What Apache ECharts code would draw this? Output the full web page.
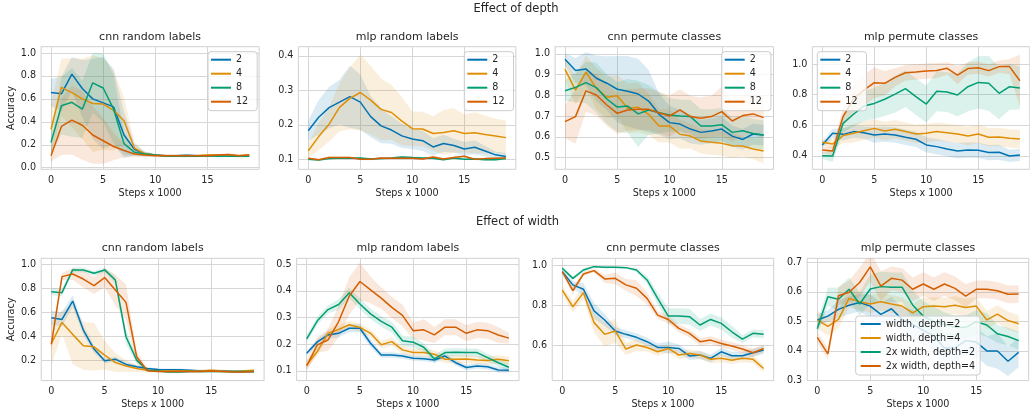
<!DOCTYPE html>
<html>
<head>
<meta charset="utf-8">
<script src="https://cdn.jsdelivr.net/npm/echarts@6/dist/echarts.min.js"></script>
<style>
  html, body { margin: 0; padding: 0; background: #ffffff; }
  #chart { width: 1030px; height: 412px; }
</style>
</head>
<body>
<div id="chart"></div>
<script>
// Training steps (in thousands)
const steps = [0, 1, 2, 3, 4, 5, 6, 7, 8, 9, 10, 11, 12, 13, 14, 15, 16, 17, 18, 19];

const depthNames = ['2', '4', '8', '12'];
const widthNames = ['width, depth=2', 'width, depth=4', '2x width, depth=2', '2x width, depth=4'];

// ---- Effect of depth: cnn, random labels (mean accuracy and spread)
const dCnnRand2 = [0.656, 0.644, 0.816, 0.69, 0.60, 0.565, 0.53, 0.285, 0.16, 0.12, 0.11, 0.105, 0.105, 0.108, 0.105, 0.105, 0.105, 0.104, 0.10, 0.104];
const dCnnRand2Sd = [0.12, 0.15, 0.15, 0.25, 0.35, 0.4, 0.33, 0.2, 0.05, 0.02, 0.01, 0.01, 0.01, 0.01, 0.01, 0.01, 0.01, 0.01, 0.01, 0.01];
const dCnnRand4 = [0.335, 0.70, 0.655, 0.60, 0.56, 0.555, 0.50, 0.41, 0.17, 0.12, 0.11, 0.105, 0.105, 0.105, 0.105, 0.11, 0.11, 0.11, 0.105, 0.11];
const dCnnRand4Sd = [0.22, 0.25, 0.3, 0.35, 0.42, 0.4, 0.35, 0.2, 0.05, 0.02, 0.01, 0.01, 0.01, 0.01, 0.01, 0.01, 0.01, 0.01, 0.01, 0.01];
const dCnnRand8 = [0.22, 0.54, 0.57, 0.51, 0.74, 0.695, 0.51, 0.21, 0.135, 0.12, 0.11, 0.10, 0.10, 0.10, 0.10, 0.105, 0.10, 0.10, 0.10, 0.10];
const dCnnRand8Sd = [0.1, 0.25, 0.3, 0.25, 0.26, 0.3, 0.3, 0.1, 0.03, 0.02, 0.01, 0.01, 0.01, 0.01, 0.01, 0.01, 0.01, 0.01, 0.01, 0.01];
const dCnnRand12 = [0.105, 0.36, 0.415, 0.37, 0.285, 0.235, 0.185, 0.15, 0.12, 0.11, 0.105, 0.105, 0.105, 0.105, 0.105, 0.105, 0.11, 0.115, 0.105, 0.11];
const dCnnRand12Sd = [0.05, 0.25, 0.3, 0.3, 0.25, 0.2, 0.12, 0.06, 0.03, 0.02, 0.01, 0.01, 0.01, 0.01, 0.01, 0.01, 0.01, 0.01, 0.01, 0.01];

// ---- Effect of depth: mlp, random labels
const dMlpRand2 = [0.183, 0.222, 0.25, 0.266, 0.282, 0.266, 0.224, 0.197, 0.185, 0.168, 0.159, 0.154, 0.136, 0.146, 0.14, 0.13, 0.135, 0.124, 0.113, 0.108];
const dMlpRand2Sd = [0.03, 0.05, 0.06, 0.065, 0.09, 0.08, 0.06, 0.05, 0.04, 0.035, 0.03, 0.03, 0.025, 0.025, 0.02, 0.02, 0.02, 0.015, 0.01, 0.01];
const dMlpRand4 = [0.125, 0.166, 0.202, 0.251, 0.277, 0.294, 0.272, 0.245, 0.236, 0.211, 0.189, 0.188, 0.175, 0.178, 0.183, 0.175, 0.177, 0.172, 0.168, 0.163];
const dMlpRand4Sd = [0.02, 0.04, 0.05, 0.07, 0.09, 0.11, 0.1, 0.09, 0.08, 0.07, 0.05, 0.05, 0.05, 0.065, 0.065, 0.055, 0.06, 0.055, 0.05, 0.05];
const dMlpRand8 = [0.1, 0.098, 0.102, 0.104, 0.103, 0.104, 0.101, 0.102, 0.104, 0.107, 0.105, 0.104, 0.103, 0.099, 0.104, 0.1, 0.101, 0.099, 0.099, 0.102];
const dMlpRand8Sd = [0.003, 0.003, 0.003, 0.003, 0.003, 0.003, 0.003, 0.003, 0.003, 0.003, 0.003, 0.003, 0.003, 0.003, 0.003, 0.003, 0.003, 0.003, 0.003, 0.003];
const dMlpRand12 = [0.103, 0.099, 0.105, 0.105, 0.105, 0.1, 0.1, 0.104, 0.103, 0.103, 0.103, 0.101, 0.107, 0.101, 0.105, 0.109, 0.1, 0.102, 0.103, 0.104];
const dMlpRand12Sd = [0.003, 0.003, 0.003, 0.003, 0.003, 0.003, 0.003, 0.003, 0.003, 0.003, 0.003, 0.003, 0.003, 0.003, 0.003, 0.003, 0.003, 0.003, 0.003, 0.003];

// ---- Effect of depth: cnn, permuted classes
const dCnnPerm2 = [0.974, 0.92, 0.928, 0.883, 0.859, 0.83, 0.82, 0.807, 0.773, 0.709, 0.669, 0.662, 0.638, 0.622, 0.629, 0.638, 0.604, 0.588, 0.614, 0.609];
const dCnnPerm2Sd = [0.03, 0.06, 0.08, 0.11, 0.13, 0.16, 0.17, 0.17, 0.15, 0.1, 0.08, 0.07, 0.07, 0.06, 0.06, 0.06, 0.05, 0.05, 0.05, 0.05];
const dCnnPerm4 = [0.926, 0.826, 0.912, 0.834, 0.791, 0.799, 0.738, 0.743, 0.709, 0.653, 0.653, 0.613, 0.604, 0.58, 0.574, 0.569, 0.558, 0.556, 0.542, 0.532];
const dCnnPerm4Sd = [0.05, 0.07, 0.08, 0.1, 0.1, 0.1, 0.12, 0.12, 0.1, 0.08, 0.08, 0.07, 0.06, 0.06, 0.06, 0.06, 0.06, 0.05, 0.05, 0.06];
const dCnnPerm8 = [0.823, 0.839, 0.862, 0.838, 0.783, 0.744, 0.749, 0.711, 0.73, 0.717, 0.706, 0.701, 0.698, 0.653, 0.653, 0.659, 0.622, 0.63, 0.617, 0.609];
const dCnnPerm8Sd = [0.05, 0.07, 0.1, 0.12, 0.12, 0.12, 0.13, 0.16, 0.12, 0.1, 0.08, 0.08, 0.08, 0.08, 0.08, 0.08, 0.07, 0.07, 0.07, 0.07];
const dCnnPerm12 = [0.674, 0.698, 0.822, 0.802, 0.754, 0.714, 0.73, 0.733, 0.733, 0.717, 0.701, 0.73, 0.698, 0.69, 0.698, 0.722, 0.677, 0.703, 0.711, 0.693];
const dCnnPerm12Sd = [0.08, 0.13, 0.1, 0.1, 0.1, 0.1, 0.1, 0.1, 0.1, 0.1, 0.1, 0.1, 0.1, 0.1, 0.1, 0.12, 0.1, 0.1, 0.1, 0.1];

// ---- Effect of depth: mlp, permuted classes
const dMlpPerm2 = [0.472, 0.548, 0.541, 0.559, 0.552, 0.537, 0.543, 0.537, 0.522, 0.509, 0.472, 0.461, 0.446, 0.433, 0.439, 0.437, 0.422, 0.424, 0.4, 0.407];
const dMlpPerm2Sd = [0.02, 0.03, 0.04, 0.04, 0.04, 0.05, 0.05, 0.05, 0.05, 0.05, 0.05, 0.05, 0.05, 0.05, 0.05, 0.05, 0.05, 0.05, 0.04, 0.04];
const dMlpPerm4 = [0.489, 0.478, 0.533, 0.548, 0.565, 0.58, 0.563, 0.574, 0.559, 0.543, 0.548, 0.559, 0.552, 0.543, 0.53, 0.543, 0.522, 0.524, 0.515, 0.511];
const dMlpPerm4Sd = [0.02, 0.03, 0.05, 0.06, 0.06, 0.06, 0.06, 0.06, 0.06, 0.06, 0.06, 0.06, 0.06, 0.06, 0.06, 0.06, 0.06, 0.06, 0.06, 0.06];
const dMlpPerm8 = [0.402, 0.4, 0.613, 0.672, 0.726, 0.743, 0.77, 0.804, 0.839, 0.787, 0.739, 0.822, 0.817, 0.798, 0.852, 0.88, 0.874, 0.809, 0.852, 0.843];
const dMlpPerm8Sd = [0.02, 0.04, 0.06, 0.08, 0.1, 0.1, 0.11, 0.12, 0.12, 0.12, 0.12, 0.13, 0.13, 0.14, 0.16, 0.17, 0.18, 0.17, 0.15, 0.14];
const dMlpPerm12 = [0.439, 0.433, 0.657, 0.772, 0.83, 0.878, 0.874, 0.913, 0.943, 0.948, 0.954, 0.957, 0.972, 0.928, 0.97, 0.976, 0.957, 0.983, 0.983, 0.891];
const dMlpPerm12Sd = [0.02, 0.03, 0.06, 0.09, 0.1, 0.1, 0.08, 0.06, 0.05, 0.05, 0.05, 0.05, 0.04, 0.06, 0.04, 0.04, 0.04, 0.04, 0.05, 0.17];

// ---- Effect of width: cnn, random labels
const wCnnRandW2 = [0.554, 0.54, 0.693, 0.451, 0.292, 0.194, 0.208, 0.164, 0.144, 0.13, 0.122, 0.12, 0.12, 0.115, 0.11, 0.11, 0.11, 0.105, 0.105, 0.105];
const wCnnRandW2Sd = [0.06, 0.06, 0.05, 0.04, 0.03, 0.02, 0.02, 0.02, 0.015, 0.01, 0.01, 0.01, 0.01, 0.01, 0.01, 0.01, 0.01, 0.01, 0.01, 0.01];
const wCnnRandW4 = [0.339, 0.515, 0.415, 0.32, 0.311, 0.242, 0.18, 0.15, 0.13, 0.116, 0.11, 0.11, 0.11, 0.11, 0.11, 0.115, 0.11, 0.105, 0.11, 0.115];
const wCnnRandW4Sd = [0.18, 0.1, 0.25, 0.2, 0.2, 0.12, 0.08, 0.05, 0.03, 0.02, 0.01, 0.01, 0.01, 0.01, 0.01, 0.01, 0.01, 0.01, 0.01, 0.01];
const wCnnRand2xW2 = [0.771, 0.763, 0.953, 0.953, 0.925, 0.953, 0.869, 0.395, 0.2, 0.116, 0.11, 0.1, 0.1, 0.105, 0.105, 0.105, 0.105, 0.105, 0.105, 0.105];
const wCnnRand2xW2Sd = [0.03, 0.03, 0.02, 0.02, 0.02, 0.02, 0.03, 0.06, 0.03, 0.01, 0.01, 0.01, 0.01, 0.01, 0.01, 0.01, 0.01, 0.01, 0.01, 0.01];
const wCnnRand2xW4 = [0.331, 0.897, 0.919, 0.877, 0.822, 0.889, 0.785, 0.682, 0.228, 0.111, 0.105, 0.105, 0.105, 0.105, 0.105, 0.11, 0.105, 0.1, 0.1, 0.105];
const wCnnRand2xW4Sd = [0.05, 0.03, 0.05, 0.07, 0.07, 0.08, 0.13, 0.15, 0.05, 0.01, 0.01, 0.01, 0.01, 0.01, 0.01, 0.01, 0.01, 0.01, 0.01, 0.01];

// ---- Effect of width: mlp, random labels
const wMlpRandW2 = [0.166, 0.209, 0.235, 0.241, 0.26, 0.26, 0.204, 0.16, 0.16, 0.156, 0.148, 0.146, 0.141, 0.156, 0.131, 0.113, 0.119, 0.116, 0.104, 0.103];
const wMlpRandW2Sd = [0.01, 0.01, 0.015, 0.015, 0.015, 0.015, 0.015, 0.01, 0.01, 0.01, 0.01, 0.01, 0.01, 0.01, 0.01, 0.01, 0.01, 0.01, 0.01, 0.01];
const wMlpRandW4 = [0.123, 0.173, 0.241, 0.256, 0.273, 0.263, 0.241, 0.198, 0.21, 0.179, 0.169, 0.169, 0.163, 0.144, 0.144, 0.145, 0.141, 0.139, 0.144, 0.138];
const wMlpRandW4Sd = [0.015, 0.015, 0.015, 0.015, 0.015, 0.015, 0.015, 0.015, 0.015, 0.015, 0.015, 0.015, 0.015, 0.015, 0.015, 0.015, 0.015, 0.015, 0.015, 0.015];
const wMlpRand2xW2 = [0.22, 0.288, 0.33, 0.349, 0.393, 0.351, 0.314, 0.286, 0.264, 0.213, 0.208, 0.189, 0.145, 0.169, 0.17, 0.169, 0.169, 0.15, 0.131, 0.114];
const wMlpRand2xW2Sd = [0.015, 0.015, 0.015, 0.02, 0.02, 0.02, 0.02, 0.02, 0.02, 0.02, 0.02, 0.015, 0.015, 0.015, 0.015, 0.015, 0.015, 0.015, 0.015, 0.015];
const wMlpRand2xW4 = [0.119, 0.198, 0.216, 0.285, 0.381, 0.435, 0.404, 0.373, 0.338, 0.308, 0.251, 0.254, 0.235, 0.264, 0.264, 0.241, 0.254, 0.251, 0.235, 0.223];
const wMlpRand2xW4Sd = [0.02, 0.03, 0.04, 0.06, 0.07, 0.07, 0.05, 0.04, 0.04, 0.04, 0.03, 0.04, 0.03, 0.03, 0.03, 0.03, 0.03, 0.03, 0.03, 0.02];

// ---- Effect of width: cnn, permuted classes
const wCnnPermW2 = [0.97, 0.903, 0.881, 0.772, 0.726, 0.671, 0.654, 0.639, 0.617, 0.588, 0.588, 0.583, 0.545, 0.55, 0.533, 0.566, 0.546, 0.546, 0.561, 0.575];
const wCnnPermW2Sd = [0.01, 0.02, 0.03, 0.04, 0.03, 0.02, 0.02, 0.02, 0.02, 0.02, 0.03, 0.02, 0.02, 0.02, 0.02, 0.02, 0.02, 0.02, 0.02, 0.02];
const wCnnPermW4 = [0.877, 0.793, 0.864, 0.713, 0.654, 0.671, 0.58, 0.6, 0.588, 0.566, 0.583, 0.55, 0.558, 0.55, 0.528, 0.533, 0.524, 0.533, 0.528, 0.482];
const wCnnPermW4Sd = [0.02, 0.03, 0.03, 0.05, 0.06, 0.06, 0.03, 0.03, 0.02, 0.02, 0.02, 0.02, 0.02, 0.02, 0.02, 0.02, 0.02, 0.02, 0.02, 0.02];
const wCnnPerm2xW2 = [0.987, 0.936, 0.978, 0.995, 0.992, 0.992, 0.99, 0.978, 0.928, 0.835, 0.746, 0.746, 0.743, 0.701, 0.729, 0.709, 0.667, 0.63, 0.659, 0.654];
const wCnnPerm2xW2Sd = [0.01, 0.01, 0.01, 0.005, 0.005, 0.005, 0.005, 0.01, 0.02, 0.03, 0.04, 0.04, 0.04, 0.03, 0.03, 0.03, 0.03, 0.02, 0.02, 0.02];
const wCnnPerm2xW4 = [0.97, 0.874, 0.958, 0.975, 0.933, 0.936, 0.903, 0.886, 0.835, 0.751, 0.729, 0.684, 0.659, 0.617, 0.625, 0.608, 0.595, 0.58, 0.561, 0.583];
const wCnnPerm2xW4Sd = [0.01, 0.02, 0.01, 0.01, 0.02, 0.03, 0.03, 0.04, 0.03, 0.02, 0.02, 0.02, 0.02, 0.02, 0.02, 0.02, 0.02, 0.02, 0.02, 0.02];

// ---- Effect of width: mlp, permuted classes
const wMlpPermW2 = [0.505, 0.518, 0.541, 0.555, 0.564, 0.552, 0.524, 0.543, 0.507, 0.49, 0.47, 0.45, 0.41, 0.41, 0.435, 0.43, 0.40, 0.40, 0.365, 0.395];
const wMlpPermW2Sd = [0.02, 0.02, 0.03, 0.03, 0.03, 0.04, 0.04, 0.04, 0.04, 0.05, 0.05, 0.05, 0.05, 0.05, 0.05, 0.05, 0.05, 0.06, 0.05, 0.05];
const wMlpPermW4 = [0.505, 0.483, 0.507, 0.578, 0.567, 0.559, 0.567, 0.559, 0.552, 0.529, 0.55, 0.552, 0.55, 0.555, 0.547, 0.552, 0.505, 0.525, 0.503, 0.492];
const wMlpPermW4Sd = [0.03, 0.03, 0.03, 0.03, 0.03, 0.03, 0.03, 0.03, 0.03, 0.03, 0.03, 0.03, 0.03, 0.03, 0.03, 0.03, 0.03, 0.03, 0.03, 0.03];
const wMlpPerm2xW2 = [0.475, 0.584, 0.575, 0.609, 0.559, 0.61, 0.618, 0.616, 0.616, 0.556, 0.518, 0.5, 0.49, 0.48, 0.48, 0.499, 0.488, 0.458, 0.449, 0.435];
const wMlpPerm2xW2Sd = [0.02, 0.03, 0.04, 0.04, 0.04, 0.05, 0.05, 0.05, 0.05, 0.05, 0.05, 0.05, 0.04, 0.04, 0.04, 0.04, 0.04, 0.03, 0.03, 0.03];
const wMlpPerm2xW4 = [0.446, 0.39, 0.587, 0.599, 0.632, 0.685, 0.62, 0.646, 0.64, 0.609, 0.627, 0.609, 0.627, 0.612, 0.586, 0.609, 0.609, 0.604, 0.592, 0.593];
const wMlpPerm2xW4Sd = [0.02, 0.02, 0.03, 0.04, 0.05, 0.05, 0.05, 0.04, 0.04, 0.04, 0.04, 0.04, 0.04, 0.04, 0.04, 0.03, 0.03, 0.03, 0.03, 0.03];

// Tick labels
const xTicks = [0, 5, 10, 15];
const yTicksCnnRand = [0, 0.2, 0.4, 0.6, 0.8, 1.0];
const yTicksMlpRandDepth = [0.1, 0.2, 0.3, 0.4];
const yTicksCnnPermDepth = [0.5, 0.6, 0.7, 0.8, 0.9, 1.0];
const yTicksMlpPermDepth = [0.4, 0.6, 0.8, 1.0];
const yTicksCnnRandWidth = [0.2, 0.4, 0.6, 0.8, 1.0];
const yTicksMlpRandWidth = [0.1, 0.2, 0.3, 0.4, 0.5];
const yTicksCnnPermWidth = [0.6, 0.8, 1.0];
const yTicksMlpPermWidth = [0.3, 0.4, 0.5, 0.6, 0.7];

const palette = ['#0173b2', '#de8f05', '#029e73', '#d55e00'];
const FONT = 'DejaVu Sans';
const TEXT = '#262626';

// Panel layout (pixels) and the series drawn in each
const panels = [
  { title: 'cnn random labels', left: 41.1, top: 46.7, width: 218, height: 122.6, yMin: -0.014, yMax: 1.055, yTicks: yTicksCnnRand, yName: 'Accuracy',
    names: depthNames, means: [dCnnRand2, dCnnRand4, dCnnRand8, dCnnRand12], sds: [dCnnRand2Sd, dCnnRand4Sd, dCnnRand8Sd, dCnnRand12Sd],
    legend: { left: 208, top: 51.7, padding: [2, 9, 3, 3] } },
  { title: 'mlp random labels', left: 298.4, top: 46.7, width: 217.4, height: 122.6, yMin: 0.071, yMax: 0.427, yTicks: yTicksMlpRandDepth,
    names: depthNames, means: [dMlpRand2, dMlpRand4, dMlpRand8, dMlpRand12], sds: [dMlpRand2Sd, dMlpRand4Sd, dMlpRand8Sd, dMlpRand12Sd],
    legend: { left: 464.3, top: 51.7, padding: [2, 9, 3, 3] } },
  { title: 'cnn permute classes', left: 555.1, top: 46.7, width: 218.4, height: 122.6, yMin: 0.444, yMax: 1.035, yTicks: yTicksCnnPermDepth,
    names: depthNames, means: [dCnnPerm2, dCnnPerm4, dCnnPerm8, dCnnPerm12], sds: [dCnnPerm2Sd, dCnnPerm4Sd, dCnnPerm8Sd, dCnnPerm12Sd],
    legend: { left: 721.7, top: 51.7, padding: [2, 9, 3, 3] } },
  { title: 'mlp permute classes', left: 812.4, top: 46.7, width: 217.4, height: 122.6, yMin: 0.313, yMax: 1.113, yTicks: yTicksMlpPermDepth,
    names: depthNames, means: [dMlpPerm2, dMlpPerm4, dMlpPerm8, dMlpPerm12], sds: [dMlpPerm2Sd, dMlpPerm4Sd, dMlpPerm8Sd, dMlpPerm12Sd],
    legend: { left: 817.3, top: 51.7, padding: [2, 9, 3, 3] } },
  { title: 'cnn random labels', left: 41.2, top: 258.3, width: 222.9, height: 122.3, yMin: 0.029, yMax: 1.05, yTicks: yTicksCnnRandWidth, yName: 'Accuracy',
    names: widthNames, means: [wCnnRandW2, wCnnRandW4, wCnnRand2xW2, wCnnRand2xW4], sds: [wCnnRandW2Sd, wCnnRandW4Sd, wCnnRand2xW2Sd, wCnnRand2xW4Sd] },
  { title: 'mlp random labels', left: 296.6, top: 258.3, width: 222.4, height: 122.3, yMin: 0.064, yMax: 0.522, yTicks: yTicksMlpRandWidth,
    names: widthNames, means: [wMlpRandW2, wMlpRandW4, wMlpRand2xW2, wMlpRand2xW4], sds: [wMlpRandW2Sd, wMlpRandW4Sd, wMlpRand2xW2Sd, wMlpRand2xW4Sd] },
  { title: 'cnn permute classes', left: 552.2, top: 258.3, width: 221.5, height: 122.3, yMin: 0.421, yMax: 1.037, yTicks: yTicksCnnPermWidth,
    names: widthNames, means: [wCnnPermW2, wCnnPermW4, wCnnPerm2xW2, wCnnPerm2xW4], sds: [wCnnPermW2Sd, wCnnPermW4Sd, wCnnPerm2xW2Sd, wCnnPerm2xW4Sd] },
  { title: 'mlp permute classes', left: 807.2, top: 258.3, width: 221.5, height: 122.3, yMin: 0.2995, yMax: 0.714, yTicks: yTicksMlpPermWidth,
    names: widthNames, means: [wMlpPermW2, wMlpPermW4, wMlpPerm2xW2, wMlpPerm2xW4], sds: [wMlpPermW2Sd, wMlpPermW4Sd, wMlpPerm2xW2Sd, wMlpPerm2xW4Sd],
    legend: { left: 855.7, top: 316, padding: [2, 5, 3, 5] } }
];

const grids = [], xAxes = [], yAxes = [], series = [], legends = [], graphics = [];

graphics.push({ type: 'text', x: 516, y: 9, style: { text: 'Effect of depth', font: '11.5px "' + FONT + '"', fill: TEXT, align: 'center', verticalAlign: 'middle' } });
graphics.push({ type: 'text', x: 517.5, y: 222, style: { text: 'Effect of width', font: '11.5px "' + FONT + '"', fill: TEXT, align: 'center', verticalAlign: 'middle' } });

// Shaded band between rows [step, low, high], drawn as one polygon in data coordinates
function bandRenderer(rows, color) {
  return function (params, api) {
    if (params.dataIndex !== 0) return null;
    const upper = rows.map(r => api.coord([r[0], r[2]]));
    const lower = rows.map(r => api.coord([r[0], r[1]])).reverse();
    const cs = params.coordSys;
    return {
      type: 'polygon',
      shape: { points: upper.concat(lower) },
      style: { fill: color, opacity: 0.14 },
      clipPath: { type: 'rect', shape: { x: cs.x, y: cs.y, width: cs.width, height: cs.height } },
      silent: true
    };
  };
}

panels.forEach((p, gi) => {
  grids.push({ left: p.left, top: p.top, width: p.width, height: p.height, show: true, borderColor: '#d0d0d0', borderWidth: 1, backgroundColor: '#ffffff', containLabel: false });
  xAxes.push({
    type: 'value', gridIndex: gi, min: -0.95, max: 19.95,
    name: 'Steps x 1000', nameLocation: 'middle', nameGap: 19,
    nameTextStyle: { fontFamily: FONT, fontSize: 9.6, color: TEXT },
    axisLine: { show: false },
    axisTick: { show: false, customValues: xTicks },
    axisLabel: { customValues: xTicks, fontFamily: FONT, fontSize: 9.6, color: TEXT, margin: 6 },
    splitLine: { show: true, lineStyle: { color: '#d6d6d6', width: 1 } }
  });
  yAxes.push({
    type: 'value', gridIndex: gi, min: p.yMin, max: p.yMax,
    name: p.yName || '', nameLocation: 'middle', nameGap: 25, nameRotate: 90,
    nameTextStyle: { fontFamily: FONT, fontSize: 9.6, color: TEXT },
    axisLine: { show: false },
    axisTick: { show: false, customValues: p.yTicks },
    axisLabel: { customValues: p.yTicks, fontFamily: FONT, fontSize: 9.6, color: TEXT, margin: 5, formatter: v => v.toFixed(1) },
    splitLine: { show: true, lineStyle: { color: '#d6d6d6', width: 1 } }
  });
  graphics.push({ type: 'text', x: p.left + p.width / 2, y: p.top - 10, style: { text: p.title, font: '11px "' + FONT + '"', fill: TEXT, align: 'center', verticalAlign: 'middle' } });

  p.means.forEach((m, k) => {
    const sd = p.sds[k];
    const rows = steps.map((s, i) => [s, m[i] - sd[i], m[i] + sd[i]]);
    series.push({
      type: 'custom', name: 'band', xAxisIndex: gi, yAxisIndex: gi, silent: true,
      data: rows, encode: { x: 0, y: [1, 2] },
      renderItem: bandRenderer(rows, palette[k]), z: 1
    });
    series.push({
      type: 'line', name: p.names[k], xAxisIndex: gi, yAxisIndex: gi,
      data: steps.map((s, i) => [s, m[i]]),
      symbol: 'none', color: palette[k], lineStyle: { color: palette[k], width: 1.5 }, z: 3
    });
  });

  if (p.legend) {
    legends.push({
      left: p.legend.left, top: p.legend.top, orient: 'vertical',
      data: p.names, icon: 'rect', itemWidth: 20, itemHeight: 2, itemGap: 2,
      padding: p.legend.padding,
      backgroundColor: 'rgba(255,255,255,0.8)', borderColor: '#cccccc', borderWidth: 1, borderRadius: 3,
      textStyle: { fontFamily: FONT, fontSize: 9.6, color: TEXT, lineHeight: 12 },
      selectedMode: false, z: 10
    });
  }
});

const chart = echarts.init(document.getElementById('chart'), null, { renderer: 'canvas' });
chart.setOption({
  animation: false,
  backgroundColor: '#ffffff',
  textStyle: { fontFamily: FONT },
  grid: grids, xAxis: xAxes, yAxis: yAxes, series: series, legend: legends, graphic: graphics
});
</script>
</body>
</html>
